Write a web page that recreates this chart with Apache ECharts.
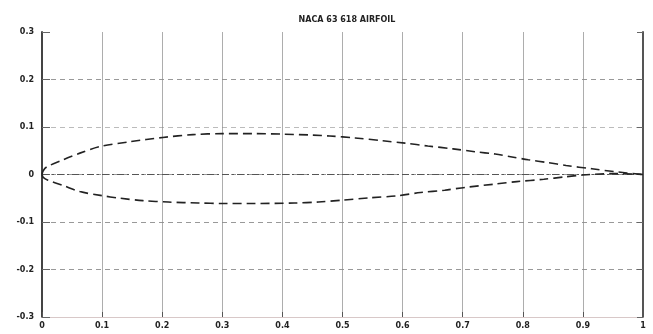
<!DOCTYPE html>
<html>
<head>
<meta charset="utf-8">
<script src="https://cdn.jsdelivr.net/npm/echarts@6/dist/echarts.min.js"></script>
<style>html,body{margin:0;padding:0;background:#fff;}#c{width:653px;height:334px;}</style>
</head>
<body>
<div id="c"></div>
<script>
var titleText = 'NACA 63 618 AIRFOIL';
var xTicks = [0, 0.1, 0.2, 0.3, 0.4, 0.5, 0.6, 0.7, 0.8, 0.9, 1];
var yTicks = [-0.3, -0.2, -0.1, 0, 0.1, 0.2, 0.3];

var upperX = [0, 0.002, 0.008, 0.035, 0.063, 0.097, 0.146, 0.201, 0.251, 0.3, 0.35, 0.4, 0.45, 0.479, 0.521, 0.567, 0.604, 0.642, 0.684, 0.72, 0.754, 0.782, 0.809, 0.842, 0.872, 0.915, 0.953, 1];
var upperY = [0, 0.008, 0.016, 0.031, 0.045, 0.059, 0.069, 0.078, 0.084, 0.086, 0.086, 0.085, 0.083, 0.081, 0.077, 0.071, 0.066, 0.060, 0.054, 0.048, 0.043, 0.037, 0.031, 0.025, 0.019, 0.012, 0.006, 0];

var lowerX = [0, 0.002, 0.01, 0.035, 0.063, 0.097, 0.13, 0.168, 0.21, 0.26, 0.3, 0.35, 0.42, 0.46, 0.5, 0.545, 0.59, 0.63, 0.67, 0.705, 0.755, 0.79, 0.835, 0.87, 0.9, 0.95, 1];
var lowerY = [0, -0.006, -0.012, -0.023, -0.036, -0.044, -0.050, -0.055, -0.058, -0.060, -0.061, -0.061, -0.060, -0.058, -0.054, -0.049, -0.045, -0.038, -0.033, -0.027, -0.020, -0.015, -0.010, -0.005, -0.001, 0.002, 0];

var chordX = [0, 1];
var chordY = [0, 0];

function pairs(xs, ys) { return xs.map(function (x, i) { return [x, ys[i]]; }); }
function fmt(v) { var s = (Math.round(v * 10) / 10).toFixed(1); if (s === '0.0' || s === '-0.0') return '0'; if (s === '1.0') return '1'; return s; }

var chart = echarts.init(document.getElementById('c'), null, {renderer: 'canvas'});
chart.setOption({
  animation: false,
  backgroundColor: '#fff',
  title: {
    text: titleText, left: 342, top: 11, textAlign: 'center',
    textStyle: {fontSize: 8, fontWeight: 'bold', color: '#222', fontFamily: 'DejaVu Sans'}
  },
  grid: {left: 42, right: 10, top: 32, bottom: 17},
  xAxis: [{
    type: 'value', min: 0, max: 1, interval: 0.1,
    axisLine: {show: true, onZero: false, lineStyle: {color: '#d8c8c8', width: 1}},
    axisTick: {show: true, inside: true, length: 5, lineStyle: {color: '#555'}},
    axisLabel: {formatter: fmt, fontSize: 8, fontWeight: 'bold', color: '#222', margin: 5, fontFamily: 'DejaVu Sans'},
    splitLine: {show: true, lineStyle: {color: '#8a8a8a', width: 1, type: 'solid', opacity: 0.7}}
  }],
  yAxis: [{
    type: 'value', min: -0.3, max: 0.3, interval: 0.1,
    axisLine: {show: true, onZero: false, lineStyle: {color: '#444', width: 2}},
    axisTick: {show: true, inside: true, length: 8, lineStyle: {color: '#666'}},
    axisLabel: {formatter: fmt, fontSize: 8, fontWeight: 'bold', color: '#222', margin: 8, fontFamily: 'DejaVu Sans'},
    splitLine: {show: true, lineStyle: {color: ['#dcd0d0', '#999', '#999', '#999', '#bbb', '#999', 'rgba(0,0,0,0)'], width: 1, type: [5, 4]}}
  }, {
    type: 'value', min: -0.3, max: 0.3, interval: 0.1, position: 'right',
    axisLine: {show: true, onZero: false, lineStyle: {color: '#555', width: 2}},
    axisTick: {show: true, inside: true, length: 6, lineStyle: {color: '#666'}},
    axisLabel: {show: false},
    splitLine: {show: false}
  }],
  series: [{
    type: 'line', data: pairs(chordX, chordY), symbol: 'none',
    lineStyle: {color: '#555', width: 1.2, type: [7, 3, 2, 3]}
  }, {
    type: 'line', data: pairs(upperX, upperY), symbol: 'none', smooth: 0.3,
    lineStyle: {color: '#222', width: 1.6, type: [9, 5]}
  }, {
    type: 'line', data: pairs(lowerX, lowerY), symbol: 'none', smooth: 0.3,
    lineStyle: {color: '#222', width: 1.6, type: [9, 5]}
  }]
});
</script>
</body>
</html>
